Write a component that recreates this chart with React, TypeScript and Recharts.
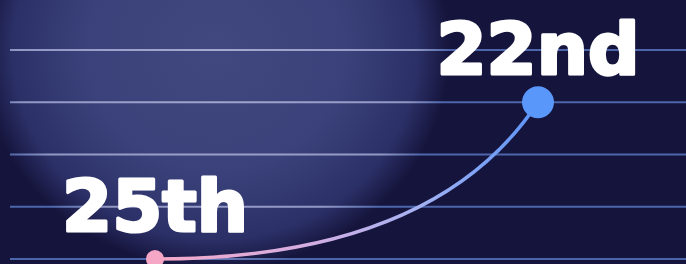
import { CartesianGrid, LabelList, Line, LineChart, XAxis, YAxis } from 'recharts';

// ranking moved from 25th to 22nd
const periods = ['Before', 'After'];
const ranks = [25, 22];
const rankLabels = ['25th', '22nd'];
const rankTicks = [21, 22, 23, 24, 25];

const data = periods.map((period, i) => ({ period, rank: ranks[i], label: rankLabels[i] }));

const dotColors = ['#f6a7c6', '#5a97fb'];
const dotRadius = [9, 16];

// swoopy curve: leaves each point flat, arrives steep
const swoopCurve = (context: any) => {
  let pts: [number, number][] = [];
  return {
    areaStart() {},
    areaEnd() {},
    lineStart() {
      pts = [];
    },
    point(x: number, y: number) {
      pts.push([x, y]);
    },
    lineEnd() {
      pts.forEach(([x, y], i) => {
        if (i === 0) {
          context.moveTo(x, y);
          return;
        }
        const [px, py] = pts[i - 1];
        context.quadraticCurveTo(px + (x - px) * 0.73, py, x, y);
      });
    },
  };
};

const RankLabel = (props: any) => {
  const { x, y, value } = props;
  return (
    <text
      x={x}
      y={y - 28}
      textAnchor="middle"
      fill="#ffffff"
      stroke="#ffffff"
      strokeWidth={3.2}
      strokeLinejoin="round"
      style={{ fontFamily: '"DejaVu Sans", sans-serif', fontWeight: 700, fontSize: 72 }}
    >
      {value}
    </text>
  );
};

export default function App() {
  return (
    <div
      style={{
        position: 'absolute',
        left: 0,
        top: 0,
        width: 686,
        height: 264,
        overflow: 'hidden',
        background:
          'radial-gradient(ellipse 235px 220px at 215px 50px, #41487f 0%, #3b427b 55%, #2b3067 86%, #15143c 100%)',
        backgroundColor: '#15143c',
      }}
    >
      <LineChart width={686} height={264} data={data} margin={{ top: 50, right: 0, bottom: 5, left: 10 }}>
        <defs>
          <linearGradient id="lineGrad" x1="0" y1="0" x2="1" y2="0">
            <stop offset="0%" stopColor="#f5a8c6" />
            <stop offset="40%" stopColor="#d4aee2" />
            <stop offset="70%" stopColor="#a2b2f3" />
            <stop offset="100%" stopColor="#5b93f8" />
          </linearGradient>
          <radialGradient
            id="gridGrad"
            gradientUnits="userSpaceOnUse"
            cx="215"
            cy="50"
            r="235"
            gradientTransform="translate(215 50) scale(1 0.936) translate(-215 -50)"
          >
            <stop offset="0%" stopColor="#a4a9cf" />
            <stop offset="85%" stopColor="#9298c4" />
            <stop offset="100%" stopColor="#4c65ab" />
          </radialGradient>
        </defs>
        <CartesianGrid vertical={false} stroke="url(#gridGrad)" strokeWidth={2} />
        <XAxis dataKey="period" hide padding={{ left: 145, right: 148 }} />
        <YAxis hide reversed domain={[21, 25]} ticks={rankTicks} />
        <Line
          dataKey="rank"
          type={swoopCurve as any}
          stroke="url(#lineGrad)"
          strokeWidth={3.5}
          isAnimationActive={false}
          dot={(p: any) => (
            <circle key={p.index} cx={p.cx} cy={p.cy} r={dotRadius[p.index]} fill={dotColors[p.index]} />
          )}
          activeDot={false}
        >
          <LabelList dataKey="label" content={RankLabel} />
        </Line>
      </LineChart>
    </div>
  );
}
